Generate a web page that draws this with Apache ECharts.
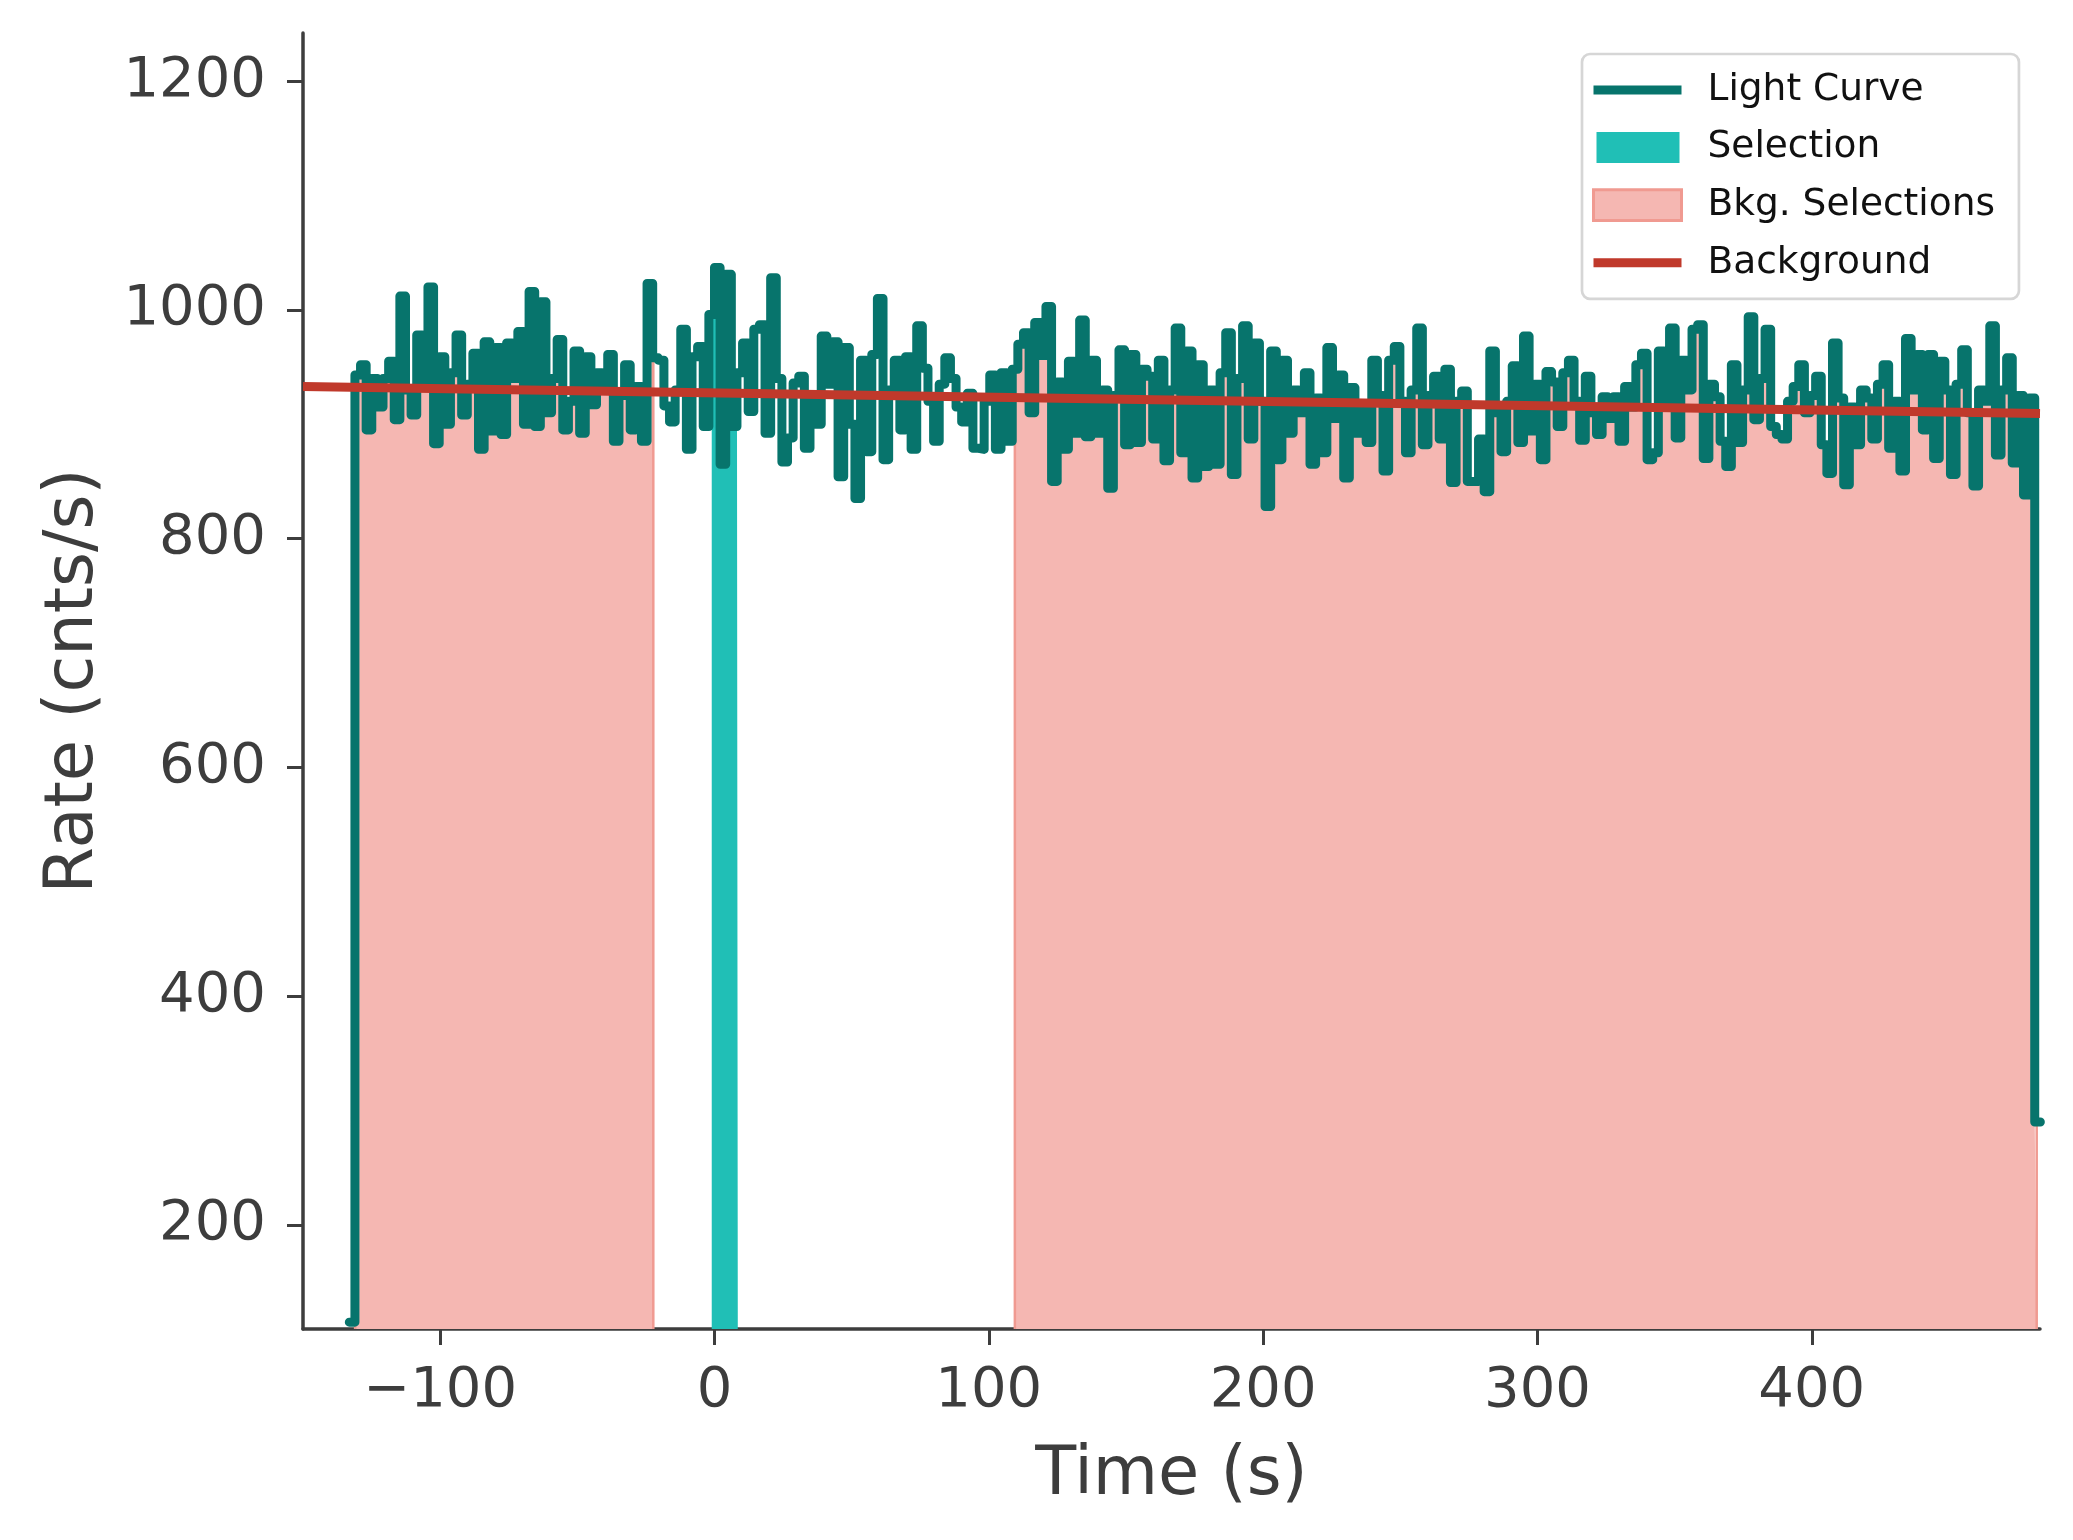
<!DOCTYPE html>
<html>
<head>
<meta charset="utf-8">
<script src="https://cdn.jsdelivr.net/npm/echarts@6/dist/echarts.min.js"></script>
<style>
  html, body { margin: 0; padding: 0; background: #ffffff; }
  #chart { width: 2073px; height: 1540px; }
</style>
</head>
<body>
<div id="chart"></div>
<script>
// ---- Data ----
const binStart = -133.12;   // start of first bin (s)
const binWidth = 2.048;     // bin width (s)
const rates = [
  115, 943, 952, 895, 940, 915, 940, 955, 904, 1012,
  930, 908, 978, 935, 1020, 883, 959, 900, 945, 978,
  908, 935, 962, 878, 972, 894, 967, 891, 971, 940,
  981, 900, 1016, 898, 1007, 910, 940, 974, 895, 920,
  964, 892, 959, 917, 945, 930, 961, 885, 925, 952,
  895, 933, 885, 1023, 958, 956, 916, 902, 930, 983,
  878, 959, 968, 898, 996, 1037, 865, 1031, 898, 945,
  971, 911, 983, 987, 892, 1028, 940, 867, 888, 936,
  942, 879, 925, 900, 977, 935, 972, 854, 967, 900,
  835, 956, 876, 961, 1010, 869, 930, 956, 895, 959,
  878, 986, 949, 920, 885, 935, 958, 940, 915, 902,
  927, 879, 878, 920, 943, 878, 945, 885, 948, 970,
  980, 910, 989, 960, 1003, 850, 937, 878, 955, 892,
  991, 889, 956, 892, 930, 844, 925, 965, 882, 961,
  884, 948, 942, 887, 956, 868, 930, 984, 875, 964,
  853, 952, 863, 930, 865, 945, 980, 856, 940, 986,
  887, 971, 920, 828, 964, 869, 956, 892, 930, 910,
  945, 865, 923, 875, 967, 905, 943, 853, 932, 892,
  915, 884, 956, 925, 859, 956, 968, 920, 875, 930,
  984, 882, 925, 942, 887, 948, 849, 920, 929, 850,
  850, 887, 841, 964, 910, 876, 920, 951, 884, 977,
  894, 935, 869, 946, 937, 898, 945, 956, 920, 886,
  942, 910, 891, 924, 905, 924, 885, 933, 915, 952,
  962, 869, 875, 964, 920, 984, 888, 956, 930, 983,
  987, 870, 935, 924, 885, 863, 952, 884, 930, 994,
  904, 940, 983, 898, 891, 887, 920, 933, 952, 910,
  925, 942, 882, 857, 971, 923, 847, 915, 882, 930,
  923, 887, 935, 952, 879, 920, 859, 975, 930, 961,
  895, 961, 870, 955, 930, 856, 935, 965, 910, 846,
  930, 920, 986, 873, 930, 958, 866, 925, 838, 923,
  290
];
const selectionRange = [-1.0, 8.5];
const bkgRanges = [[-131.0, -22.3], [109.5, 482.0]];
const bkgLineTimes = [-150, 483.2];
const bkgLineRates = [933, 909.4];
const xTicks = [-100, 0, 100, 200, 300, 400];
const yTicks = [200, 400, 600, 800, 1000, 1200];
const xRange = [-150, 483.2];
const yRange = [109, 1242];

// ---- Derived series data ----
const curve = rates.map((v, i) => [binStart + i * binWidth, v]);
curve.push([binStart + rates.length * binWidth, rates[rates.length - 1]]);

function rateAt(t) {
  let i = Math.floor((t - binStart) / binWidth);
  i = Math.max(0, Math.min(rates.length - 1, i));
  return rates[i];
}
function clipSteps(lo, hi) {
  const pts = [];
  for (let i = 0; i < rates.length; i++) {
    const t0 = binStart + i * binWidth, t1 = t0 + binWidth;
    if (t1 <= lo || t0 >= hi) continue;
    pts.push([Math.max(t0, lo), rates[i]]);
  }
  pts.push([hi, rateAt(hi - 1e-6)]);
  return pts;
}

const FONT = 'DejaVu Sans';
const AXIS = '#3d3d3d';
const C_CURVE = '#07746c';
const C_SEL = '#20bfb6';
const C_BKG = '#f5b7b2';
const C_BKG_EDGE = '#f09a91';
const C_BACK = '#c0392b';

const series = [];
bkgRanges.forEach(r => {
  series.push({
    name: 'Bkg. Selections', type: 'line', step: 'end', showSymbol: false, z: 1,
    data: clipSteps(r[0], r[1]),
    lineStyle: { width: 0, color: C_BKG }, itemStyle: { color: C_BKG },
    areaStyle: { color: C_BKG, opacity: 1, origin: 'start' }, silent: true
  });
  [r[0], r[1]].forEach(e => {
    series.push({
      type: 'line', showSymbol: false, z: 2, silent: true,
      data: [[e, yRange[0]], [e, rateAt(e - 1e-6)]],
      lineStyle: { width: 2.5, color: C_BKG_EDGE }
    });
  });
});
series.push({
  name: 'Selection', type: 'line', step: 'end', showSymbol: false, z: 3,
  data: clipSteps(selectionRange[0], selectionRange[1]),
  lineStyle: { width: 0, color: C_SEL }, itemStyle: { color: C_SEL },
  areaStyle: { color: C_SEL, opacity: 1, origin: 'start' }, silent: true
});
series.push({
  name: 'Light Curve', type: 'line', step: 'end', showSymbol: false, z: 5,
  data: curve, itemStyle: { color: C_CURVE },
  lineStyle: { width: 9, color: C_CURVE, join: 'round', cap: 'round' }, silent: true
});
series.push({
  name: 'Background', type: 'line', showSymbol: false, z: 6,
  data: bkgLineTimes.map((t, i) => [t, bkgLineRates[i]]), itemStyle: { color: C_BACK },
  lineStyle: { width: 9, color: C_BACK }, silent: true
});

const lineIcon = 'path://M0,11H88V20H0Z M0,0H0.01V0.01H0Z M0,30.99H0.01V31H0Z';
const patchIcon = 'path://M3,0H86V31H3Z M0,0H0.01V0.01H0Z M0,30.99H0.01V31H0Z M87.99,0H88V0.01H87.99Z';
const patchIcon2 = 'path://M4.5,1.5H84.5V29.5H4.5Z';

const option = {
  animation: false,
  backgroundColor: '#ffffff',
  grid: { left: 303, right: 33, top: 33, bottom: 211, containLabel: false, outerBoundsMode: 'none' },
  legend: {
    left: 1582, top: 54, orient: 'vertical', selectedMode: false,
    itemWidth: 88, itemHeight: 31, itemGap: 19.6,
    padding: [17, 24, 17, 10],
    backgroundColor: '#ffffff', borderColor: '#d6d6d6', borderWidth: 2.7, borderRadius: 8,
    textStyle: { fontFamily: FONT, fontSize: 37.5, color: '#111111', padding: [0, 0, 0, 21] },
    data: [
      { name: 'Light Curve', icon: lineIcon, itemStyle: { color: C_CURVE, borderWidth: 0 } },
      { name: 'Selection', icon: patchIcon, itemStyle: { color: C_SEL, borderWidth: 0 } },
      { name: 'Bkg. Selections', icon: patchIcon2, itemStyle: { color: C_BKG, borderColor: C_BKG_EDGE, borderWidth: 3 } },
      { name: 'Background', icon: lineIcon, itemStyle: { color: C_BACK, borderWidth: 0 } }
    ]
  },
  xAxis: {
    type: 'value', min: xRange[0], max: xRange[1],
    name: 'Time (s)', nameLocation: 'middle', nameGap: 114,
    nameTextStyle: { fontFamily: FONT, fontSize: 67, color: AXIS },
    axisLine: { show: true, onZero: false, lineStyle: { color: AXIS, width: 3.5 } },
    axisTick: { show: true, length: 16, customValues: xTicks, lineStyle: { color: AXIS, width: 3 } },
    axisLabel: {
      show: true, customValues: xTicks, margin: 34,
      fontFamily: FONT, fontSize: 56, color: AXIS,
      formatter: v => (v < 0 ? '\u2212' + Math.abs(v) : String(v))
    },
    splitLine: { show: false }
  },
  yAxis: {
    type: 'value', min: yRange[0], max: yRange[1],
    name: 'Rate (cnts/s)', nameLocation: 'middle', nameGap: 195,
    nameTextStyle: { fontFamily: FONT, fontSize: 67, color: AXIS },
    axisLine: { show: true, onZero: false, lineStyle: { color: AXIS, width: 3.5 } },
    axisTick: { show: true, length: 16, customValues: yTicks, lineStyle: { color: AXIS, width: 3 } },
    axisLabel: {
      show: true, customValues: yTicks, margin: 37,
      fontFamily: FONT, fontSize: 56, color: AXIS,
      formatter: v => String(v)
    },
    splitLine: { show: false }
  },
  series: series
};

const chart = echarts.init(document.getElementById('chart'), null, { renderer: 'canvas' });
chart.setOption(option);
</script>
</body>
</html>
